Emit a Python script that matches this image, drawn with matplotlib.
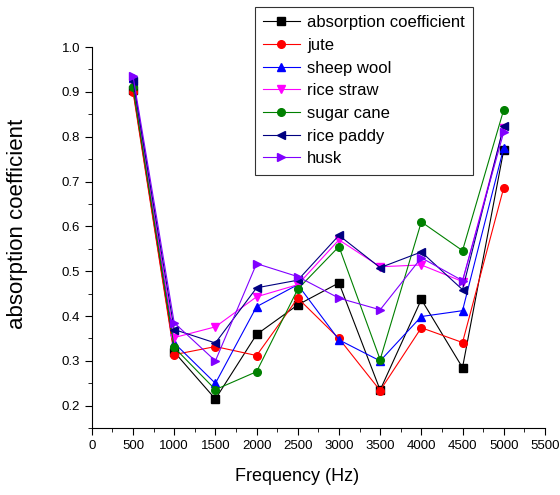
import matplotlib.pyplot as plt
from matplotlib.ticker import MultipleLocator

plt.rcParams['font.family'] = ['Liberation Sans', 'DejaVu Sans']

# =========================
# data
# =========================

freq = [500, 1000, 1500, 2000, 2500, 3000, 3500, 4000, 4500, 5000]

absorption = [0.905, 0.32, 0.215, 0.359, 0.425, 0.474, 0.235, 0.437, 0.285, 0.77]
jute = [0.90, 0.314, 0.332, 0.312, 0.44, 0.35, 0.234, 0.374, 0.341, 0.686]
sheep_wool = [0.93, 0.34, 0.25, 0.421, 0.47, 0.347, 0.30, 0.399, 0.412, 0.775]
rice_straw = [0.92, 0.352, 0.376, 0.443, 0.47, 0.57, 0.51, 0.514, 0.477, 0.82]
sugar_cane = [0.91, 0.33, 0.236, 0.276, 0.46, 0.555, 0.303, 0.61, 0.546, 0.86]
rice_paddy = [0.925, 0.37, 0.34, 0.463, 0.48, 0.58, 0.508, 0.543, 0.459, 0.824]
husk = [0.935, 0.385, 0.30, 0.517, 0.488, 0.44, 0.414, 0.53, 0.479, 0.81]

series = [
    ("absorption coefficient", absorption, "black", "s"),
    ("jute", jute, "red", "o"),
    ("sheep wool", sheep_wool, "blue", "^"),
    ("rice straw", rice_straw, "magenta", "v"),
    ("sugar cane", sugar_cane, "#008000", "o"),
    ("rice paddy", rice_paddy, "#000080", "<"),
    ("husk", husk, "#8000ff", ">"),
]

# =========================
# plot
# =========================

fig = plt.figure(figsize=(5.6, 4.95), dpi=100)
ax = fig.add_axes([0.164, 0.135, 0.809, 0.77])

for name, vals, col, mk in series:
    ax.plot(freq, vals, color=col, marker=mk, markersize=5.5,
            linewidth=0.8, label=name)

ax.set_xlim(0, 5500)
ax.set_ylim(0.15, 1.0)
ax.xaxis.set_major_locator(MultipleLocator(500))
ax.xaxis.set_minor_locator(MultipleLocator(250))
ax.yaxis.set_minor_locator(MultipleLocator(0.05))
ax.set_yticks([0.2, 0.3, 0.4, 0.5, 0.6, 0.7, 0.8, 0.9, 1.0])

ax.spines["top"].set_visible(False)
ax.spines["right"].set_visible(False)
ax.tick_params(which="major", direction="out", length=5, labelsize=9.5)
ax.tick_params(which="minor", direction="out", length=3)

ax.set_xlabel("Frequency (Hz)", fontsize=13)
ax.set_ylabel("absorption coefficient", fontsize=16)
ax.xaxis.set_label_coords(0.453, -0.105)
ax.yaxis.set_label_coords(-0.14, 0.537)

leg = fig.legend(loc="upper left", bbox_to_anchor=(0.455, 0.986),
                 fontsize=12, frameon=True, fancybox=False,
                 handlelength=2.2, labelspacing=0.46, borderpad=0.5,
                 handletextpad=0.45, borderaxespad=0)
leg.get_frame().set_edgecolor("black")
leg.get_frame().set_linewidth(0.8)

plt.savefig("out.png", dpi=100)
